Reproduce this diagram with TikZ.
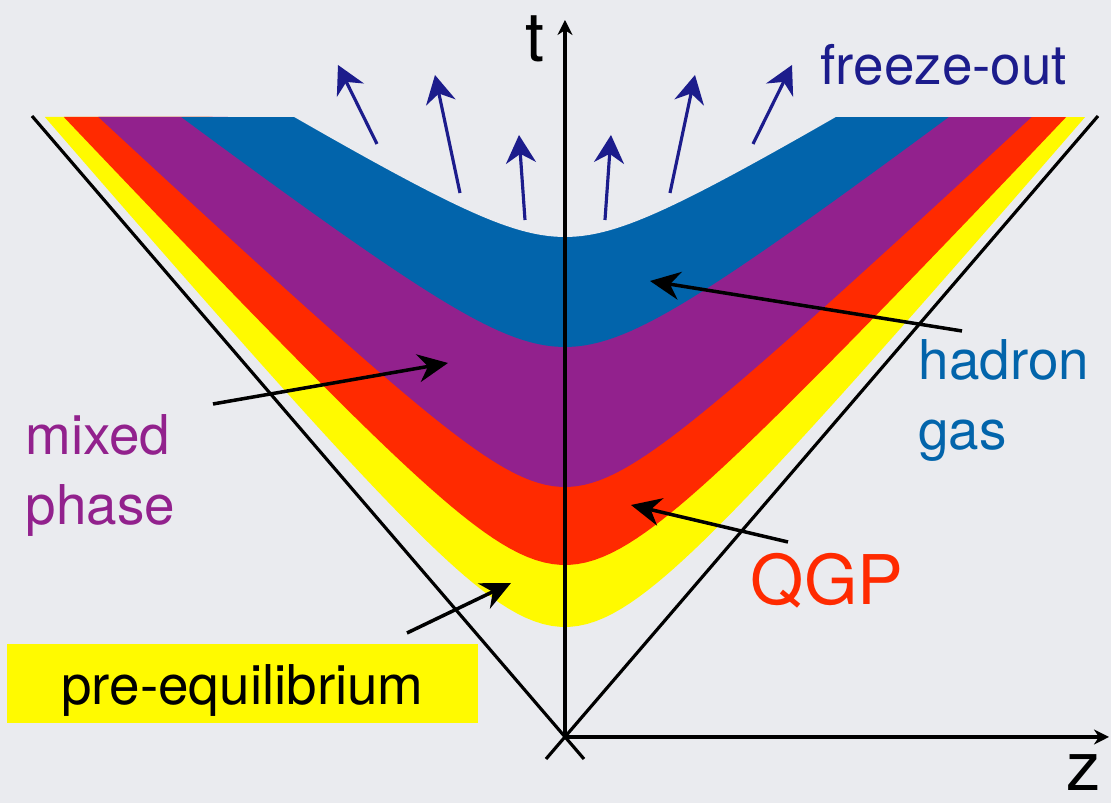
\documentclass[tikz,border=0pt]{standalone}
\usepackage{fontspec}
\setmainfont{TeX Gyre Heros}
\usetikzlibrary{arrows.meta}
\definecolor{bgc}{RGB}{234,235,239}
\definecolor{prec}{RGB}{255,250,0}
\definecolor{qgpc}{RGB}{255,42,0}
\definecolor{mixc}{RGB}{146,33,141}
\definecolor{hadc}{RGB}{2,100,171}
\definecolor{fzoc}{RGB}{28,28,140}
\newcommand{\lblsize}{\fontsize{15.6}{18.5}\selectfont}
\newcommand{\bigsize}{\fontsize{19.5}{22}\selectfont}

\begin{document}
\begin{tikzpicture}[
		callout/.style={line width=1pt, -{Stealth[length=3mm, width=2.8mm]}},
		fzarrow/.style={fzoc, line width=0.9pt, -{Stealth[length=2.8mm, width=3mm]}},
		axis/.style={line width=1pt, -{Stealth[length=1.5mm, width=1.5mm]}},
		lbl/.style={font=\lblsize, anchor=base west, align=left, inner sep=0pt}]
			% canvas
			\fill[bgc] (-5.65,-0.66) rectangle (5.46,7.37);
			\useasboundingbox (-5.65,-0.66) rectangle (5.46,7.37);
			% bands, outer to inner, cut flat at t=6.2
			\fill[prec] plot[domain=-5.2017:5.2017, samples=120] (\x,{sqrt(1.21+(1.173*\x)^2)}) -- cycle;
			\fill[qgpc] plot[domain=-5.0121:5.0121, samples=120] (\x,{0.75+sqrt(0.9409+(1.07*\x)^2)}) -- cycle;
			\fill[mixc] plot[domain=-4.6663:4.6663, samples=120] (\x,{1.75+sqrt(0.5625+(0.94*\x)^2)}) -- cycle;
			\fill[hadc] plot[domain=-3.838:3.838, samples=100] (\x,{3.2+sqrt(0.49+(0.76*\x)^2)}) -- cycle;
			% empty above freeze-out
			\fill[bgc] plot[domain=-2.708:2.708, samples=80] (\x,{4.5+sqrt(0.25+(0.6*\x)^2)}) -- cycle;
			% light cone
			\draw[line width=0.9pt] (-5.33,6.21) -- (0.19,-0.22);
			\draw[line width=0.9pt] (5.33,6.21) -- (-0.19,-0.22);
			% axes
			\coordinate (O) at (0,0);
			\coordinate (ttip) at (0,7.17);
			\coordinate (ztip) at (5.44,0);
			\draw[axis] (O) -- (ttip);
			\draw[axis] (O) -- (ztip);
			\node[font=\bigsize, anchor=base, inner sep=0pt] (tlbl) at (-0.30,6.75) {t};
			\node[font=\bigsize, anchor=base, inner sep=0pt] (zlbl) at (5.19,-0.54) {z};
			% freeze-out flow
			\foreach \xa/\ya/\xb/\yb [count=\i] in {-1.88/5.93/-2.27/6.72, -1.05/5.44/-1.30/6.62,
					-0.40/5.17/-0.46/6.02, 0.40/5.17/0.46/6.02, 1.05/5.44/1.30/6.62, 1.88/5.93/2.27/6.72} {
				\coordinate (fo\i a) at (\xa,\ya);
				\coordinate (fo\i b) at (\xb,\yb);
				\draw[fzarrow] (fo\i a) -- (fo\i b);
			}
			% labels (base = last line)
			\node[lbl, fzoc] (fzo) at (2.55,6.52) {freeze-out};
			\node[lbl, hadc] (had) at (3.53,2.87) {hadron\\[1.5pt]gas};
			\node[lbl, mixc] (mix) at (-5.40,2.12) {mixed\\[1.5pt]phase};
			\node[font=\bigsize, anchor=base west, inner sep=0pt, qgpc] (qgp) at (1.85,1.32) {QGP};
			\node[font=\lblsize, fill=prec, anchor=base, inner sep=0pt, minimum width=4.71cm,
				text height=0.61cm, text depth=0.18cm] (pre) at (-3.225,0.32) {pre-equilibrium};
			% pointers
			\coordinate (mixfrom) at (-3.52,3.33);
			\coordinate (mixto) at (-1.17,3.74);
			\coordinate (hadfrom) at (3.97,4.06);
			\coordinate (hadto) at (0.85,4.56);
			\coordinate (qgpfrom) at (2.23,1.95);
			\coordinate (qgpto) at (0.66,2.32);
			\coordinate (prefrom) at (-1.58,1.04);
			\coordinate (preto) at (-0.54,1.54);
			\draw[callout] (mixfrom) -- (mixto);
			\draw[callout] (hadfrom) -- (hadto);
			\draw[callout] (qgpfrom) -- (qgpto);
			\draw[callout] (prefrom) -- (preto);
		\end{tikzpicture}
\end{document}
